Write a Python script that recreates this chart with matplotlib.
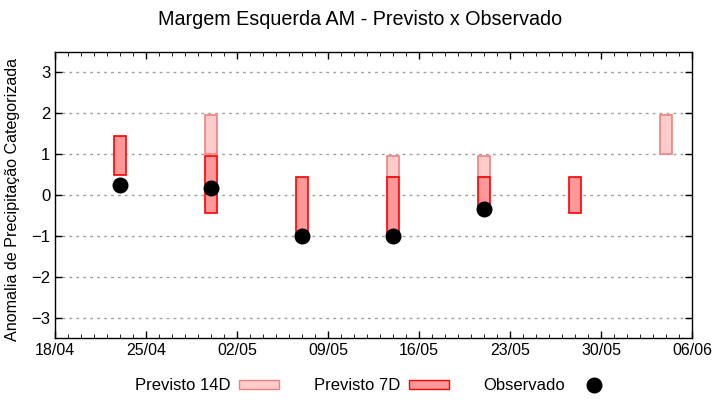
import numpy as np
import pandas as pd
import matplotlib
matplotlib.use("Agg")
import matplotlib.pyplot as plt
import matplotlib.dates as mdates
from matplotlib.patches import Patch
from matplotlib.lines import Line2D

plt.rcParams['font.family'] = ['Liberation Sans', 'DejaVu Sans']

# Previsto 14D (visible part of each bar)
d14 = pd.to_datetime(['2024-04-30', '2024-05-14', '2024-05-21', '2024-06-04'])
lo14 = [1.0, 0.45, 0.45, 1.0]
hi14 = [1.95, 0.95, 0.95, 1.95]

# Previsto 7D
d7 = pd.to_datetime(['2024-04-23', '2024-04-30', '2024-05-07', '2024-05-14',
                     '2024-05-21', '2024-05-28'])
lo7 = [0.5, -0.45, -1.0, -1.0, -0.35, -0.45]
hi7 = [1.45, 0.95, 0.45, 0.45, 0.45, 0.45]

# Observado
dobs = pd.to_datetime(['2024-04-23', '2024-04-30', '2024-05-07', '2024-05-14', '2024-05-21'])
obs = [0.24, 0.16, -1.0, -1.0, -0.34]

xticks = pd.date_range('2024-04-18', '2024-06-06', freq='7D')
yticks = [-3, -2, -1, 0, 1, 2, 3]

fig = plt.figure(figsize=(7.2, 4.0), dpi=100)
ax = fig.add_axes([0.0764, 0.155, 0.8847, 0.715])

ax.bar(d14, np.array(hi14) - np.array(lo14), bottom=lo14, width=0.95,
       color='#ffcccc', edgecolor='#f08080', linewidth=1.2, zorder=2)
ax.bar(d7, np.array(hi7) - np.array(lo7), bottom=lo7, width=0.95,
       color='#ff9999', edgecolor='#ff0000', linewidth=1.2, zorder=3)
ax.plot(dobs, obs, 'o', color='black', markersize=10.5, zorder=4)

ax.set_xlim(xticks[0], xticks[-1])
ax.set_ylim(-3.5, 3.5)
ax.set_xticks(xticks)
ax.xaxis.set_major_formatter(mdates.DateFormatter('%d/%m'))
ax.xaxis.set_minor_locator(mdates.DayLocator())
ax.set_yticks(yticks)
ax.tick_params(direction='in', top=True, right=True, labelsize=12, length=5, width=1)
ax.tick_params(axis='x', labelsize=11.5)
ax.tick_params(which='minor', direction='in', top=True, length=3)
for lab in ax.get_xticklabels():
    lab.set_family(['Liberation Sans Narrow', 'Liberation Sans'])
ax.grid(axis='y', color='#a0a0a0', linestyle=(0, (2, 3)), linewidth=1, zorder=0)
for s in ax.spines.values():
    s.set_linewidth(1)

ax.set_ylabel('Anomalia de Precipitação Categorizada', fontsize=11.6, labelpad=2)
ax.yaxis.set_label_coords(-0.055, 0.483)
fig.suptitle('Margem Esquerda AM - Previsto x Observado', fontsize=14.2, y=0.975)

handles = [Patch(facecolor='#ffcccc', edgecolor='#f08080'),
           Patch(facecolor='#ff9999', edgecolor='#ff0000'),
           Line2D([], [], marker='o', color='black', linestyle='none', markersize=10.5)]
labels = ['Previsto 14D', 'Previsto 7D', 'Observado']
leg = fig.legend(handles, labels, loc='center', bbox_to_anchor=(0.52, 0.035), ncol=3,
                 frameon=False, markerfirst=False, handlelength=2.4, handleheight=0.45,
                 handletextpad=0.5, columnspacing=2.1,
                 prop={'family': ['Liberation Sans Narrow', 'Liberation Sans'], 'size': 12})

fig.savefig('out.png', dpi=100)
